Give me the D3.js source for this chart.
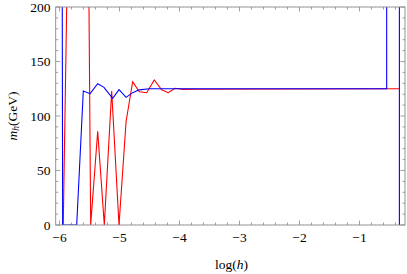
<!DOCTYPE html>
<html><head><meta charset="utf-8">
<script src="https://cdn.jsdelivr.net/npm/d3@7"></script>
<style>body{margin:0;background:#fff}svg{display:block}</style>
</head><body>
<svg id="c" width="407" height="274"></svg>
<script>
// Data (x = log(h), y = m_h in GeV)
const redX = [-5.95, -5.84, -5.59, -5.48, -5.363, -5.253, -5.13, -5.008, -4.89, -4.78, -4.67, -4.547, -4.42, -4.297, -4.187, -4.075, -3.937, -3.70, -0.335];
const redY = [-45, 340, 780, 0, 86, 0, 123, 0, 95, 131.5, 122.3, 121.4, 133, 124, 121.4, 125.4, 124.4, 124.5, 125];
const blueX = [-5.98, -5.947, -5.713, -5.603, -5.49, -5.363, -5.258, -5.113, -5.008, -4.89, -4.78, -4.67, -4.5, -0.547, -0.545, -0.336, -0.334];
const blueY = [1000, 0, 0, 123, 120.5, 129.6, 126.3, 116.2, 124.1, 117.1, 121.4, 124, 125, 125, 1000, 1000, -1000];
const xTicks = [-6, -5, -4, -3, -2, -1];
const yTicks = [0, 50, 100, 150, 200];

const svg = d3.select("#c");
const L = 55.7, R = 405, T = 7, B = 225;
const x = d3.scaleLinear().domain([-6.063, -0.2417]).range([L, R]);
const y = d3.scaleLinear().domain([0, 200]).range([B, T]);

const grey = "#888";
const xMinor = d3.range(-6, -0.2, 0.2).filter(v => Math.abs(v - Math.round(v)) > 1e-6);
const yMinor = d3.range(0, 201, 10).filter(v => v % 50 !== 0);

svg.append("defs").append("clipPath").attr("id", "clip")
  .append("rect").attr("x", L).attr("y", T).attr("width", R - L).attr("height", B - T);

const g = svg.append("g");
function tickX(vals, len) {
  vals.forEach(v => {
    g.append("line").attr("x1", x(v)).attr("x2", x(v)).attr("y1", B).attr("y2", B - len).attr("stroke", grey).attr("stroke-width", 0.8);
    g.append("line").attr("x1", x(v)).attr("x2", x(v)).attr("y1", T).attr("y2", T + len).attr("stroke", grey).attr("stroke-width", 0.8);
  });
}
function tickY(vals, len) {
  vals.forEach(v => {
    g.append("line").attr("y1", y(v)).attr("y2", y(v)).attr("x1", L).attr("x2", L + len).attr("stroke", grey).attr("stroke-width", 0.8);
    g.append("line").attr("y1", y(v)).attr("y2", y(v)).attr("x1", R).attr("x2", R - len).attr("stroke", grey).attr("stroke-width", 0.8);
  });
}
tickX(xTicks, 4.5); tickX(xMinor, 2.5);
tickY(yTicks, 4.5); tickY(yMinor, 2.5);

const line = d3.line().x(d => x(d[0])).y(d => y(d[1]));
const lines = svg.append("g").attr("clip-path", "url(#clip)");
lines.append("path").datum(redX.map((v, i) => [v, redY[i]]))
  .attr("d", line).attr("fill", "none").attr("stroke", "#ff0000").attr("stroke-width", 1.1).attr("stroke-linejoin", "miter");
lines.append("path").datum(blueX.map((v, i) => [v, blueY[i]]))
  .attr("d", line).attr("fill", "none").attr("stroke", "#0000ff").attr("stroke-width", 1.1).attr("stroke-linejoin", "miter");

svg.append("rect").attr("x", L).attr("y", T).attr("width", R - L).attr("height", B - T)
  .attr("fill", "none").attr("stroke", grey).attr("stroke-width", 0.9);

const font = "'Liberation Serif', 'DejaVu Serif', serif";
const fs = 13.5;
xTicks.forEach(v => {
  svg.append("text").attr("x", x(v)).attr("y", 242).attr("text-anchor", "middle")
    .attr("font-family", font).attr("font-size", fs).attr("fill", "#000")
    .text(v < 0 ? "\u2212" + Math.abs(v) : v);
});
yTicks.forEach(v => {
  svg.append("text").attr("x", 50.5).attr("y", y(v) + 4.5).attr("text-anchor", "end")
    .attr("font-family", font).attr("font-size", fs).attr("fill", "#000").text(v);
});
const xl = svg.append("text").attr("x", 231.5).attr("y", 268.5).attr("text-anchor", "middle")
  .attr("font-family", font).attr("font-size", fs).attr("fill", "#000");
xl.append("tspan").text("log(");
xl.append("tspan").attr("font-style", "italic").text("h");
xl.append("tspan").text(")");

const yl = svg.append("text").attr("transform", "translate(16.5,116) rotate(-90)").attr("text-anchor", "middle")
  .attr("font-family", font).attr("font-size", fs).attr("fill", "#000");
yl.append("tspan").attr("font-style", "italic").text("m");
yl.append("tspan").attr("font-style", "italic").attr("font-size", 9.5).attr("dy", 2.5).text("h");
yl.append("tspan").attr("dy", -2.5).text("(GeV)");
</script>
</body></html>
